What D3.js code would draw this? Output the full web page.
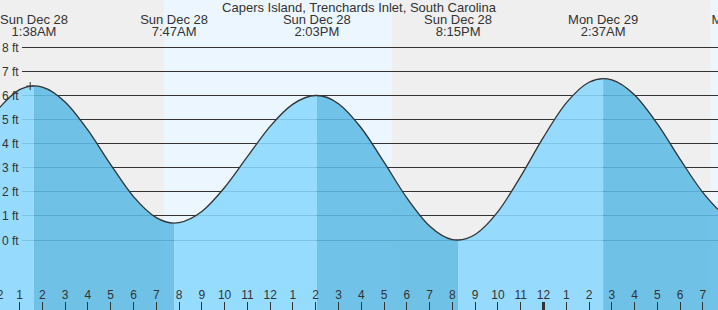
<!DOCTYPE html>
<html><head><meta charset="utf-8">
<script src="https://cdn.jsdelivr.net/npm/d3@7"></script>
<style>body{margin:0;background:#efefef;}svg{display:block;}</style>
</head><body>
<script>
// ---- data ----
const title = "Capers Island, Trenchards Inlet, South Carolina";
const eventStamps = ["2025-12-28T01:38","2025-12-28T07:47","2025-12-28T14:03","2025-12-28T20:15","2025-12-29T02:37","2025-12-29T08:55"];
const eventHeights = [6.4, 0.7, 6.0, 0.0, 6.7, 0.7];
const hourlyStart = "2025-12-28T00:00";
const hourlyHeights = [5.37, 6.24, 6.35, 5.73, 4.56, 3.13, 1.80, 0.93, 0.72, 1.18, 2.18, 3.46, 4.72, 5.64, 6.00, 5.66, 4.65, 3.23, 1.75, 0.58, 0.02, 0.23, 1.18, 2.64, 4.27, 5.69, 6.55, 6.65, 6.02, 4.82, 3.35, 1.97, 1.01];
const dayStarts = ["2025-12-28T07:20","2025-12-29T07:20"];
const dayEnds = ["2025-12-28T17:22","2025-12-29T17:23"];
const feetTicks = [0,1,2,3,4,5,6,7,8];
const nowStamp = "2025-12-28T01:28";
const nowHeight = 6.39;

// ---- setup ----
const W = 718, H = 310;
const parse = d3.timeParse("%Y-%m-%dT%H:%M");
const x = d3.scaleTime()
  .domain([parse("2025-12-28T00:00"), parse("2025-12-29T00:00")])
  .range([-3.2, 543.5]);
const y = d3.scaleLinear().domain([0, 8]).range([240, 47.3]);

const svg = d3.select("body").append("svg")
  .attr("width", W).attr("height", H)
  .style("font-family", "Arial, 'Liberation Sans', sans-serif");

// background: night and day bands
svg.append("rect").attr("width", W).attr("height", H).attr("fill", "#efefef");
svg.selectAll("rect.day").data(dayStarts.map((d, i) => [parse(d), parse(dayEnds[i])]))
  .join("rect").attr("class", "day")
  .attr("x", d => x(d[0])).attr("width", d => x(d[1]) - x(d[0]))
  .attr("y", 0).attr("height", H).attr("fill", "#ebf6ff");

// gridlines
svg.selectAll("line.grid").data(feetTicks).join("line").attr("class", "grid")
  .attr("x1", 22).attr("x2", W)
  .attr("y1", d => Math.floor(y(d)) + 0.5).attr("y2", d => Math.floor(y(d)) + 0.5)
  .attr("stroke", "#333").attr("stroke-width", 1);

// curve points
const t0 = parse(hourlyStart);
const events = eventStamps.map((s, i) => ({t: parse(s), h: eventHeights[i]}));
const pts = hourlyHeights.map((h, i) => ({t: d3.timeHour.offset(t0, i), h}))
  .concat(events).sort((a, b) => a.t - b.t);

const area = d3.area().x(d => x(d.t)).y0(H).y1(d => y(d.h)).curve(d3.curveMonotoneX);
const line = d3.line().x(d => x(d.t)).y(d => y(d.h)).curve(d3.curveMonotoneX);

// rising / falling segments
const bounds = [-50].concat(events.map(e => x(e.t))).concat([W + 50]);
const isHigh = i => {
  const nb = i + 1 < events.length ? events[i + 1].h : events[i - 1].h;
  return events[i].h > nb;
};
const defs = svg.append("defs");
for (let k = 0; k < bounds.length - 1; k++) {
  const rising = k < events.length ? isHigh(k) : !isHigh(events.length - 1);
  const id = "seg" + k;
  defs.append("clipPath").attr("id", id).append("rect")
    .attr("x", bounds[k]).attr("width", bounds[k + 1] - bounds[k])
    .attr("y", 0).attr("height", H);
  svg.append("path").datum(pts).attr("d", area)
    .attr("clip-path", `url(#${id})`)
    .attr("fill", rising ? "#8ad8ff" : "#5fbbe5")
    .attr("fill-opacity", 0.88);
}
svg.append("path").datum(pts).attr("d", line)
  .attr("fill", "none").attr("stroke", "#333").attr("stroke-width", 1.3);

// now marker
const nx = x(parse(nowStamp)), ny = y(nowHeight);
svg.append("path").attr("d", `M${nx - 4},${ny}H${nx + 4}M${nx},${ny - 4}V${ny + 4}`)
  .attr("stroke", "#333").attr("stroke-width", 1);

// y labels
svg.selectAll("text.ft").data(feetTicks).join("text").attr("class", "ft")
  .attr("x", 2).attr("y", d => y(d) + 4.5)
  .attr("font-size", 12).attr("fill", "#333")
  .text(d => d + " ft");

// title and event labels
svg.append("text").attr("x", W / 2).attr("y", 12).attr("text-anchor", "middle")
  .attr("font-size", 13).attr("fill", "#333").text(title);
const fDay = d3.timeFormat("%a %b %d"), fTime = d3.timeFormat("%-I:%M%p");
const eg = svg.selectAll("g.ev").data(events).join("g").attr("class", "ev")
  .attr("transform", d => `translate(${x(d.t)},0)`);
eg.append("text").attr("y", 24).attr("text-anchor", "middle").attr("font-size", 13)
  .attr("fill", "#333").text(d => fDay(d.t));
eg.append("text").attr("y", 36).attr("text-anchor", "middle").attr("font-size", 13)
  .attr("fill", "#333").text(d => fTime(d.t));

// hour axis
const hours = d3.timeHour.range(d3.timeHour.ceil(x.invert(-20)), x.invert(W + 20));
const fHour = d3.timeFormat("%-I");
svg.selectAll("line.tick").data(hours).join("line").attr("class", "tick")
  .attr("x1", d => Math.floor(x(d)) + 0.5).attr("x2", d => Math.floor(x(d)) + 0.5)
  .attr("y1", 302).attr("y2", H)
  .attr("stroke", "#333").attr("stroke-width", d => d.getHours() === 0 ? 3 : 1);
svg.selectAll("text.hr").data(hours).join("text").attr("class", "hr")
  .attr("x", d => x(d)).attr("y", 299).attr("text-anchor", "middle")
  .attr("font-size", 12).attr("fill", "#333").text(d => fHour(d));
</script>
</body></html>
